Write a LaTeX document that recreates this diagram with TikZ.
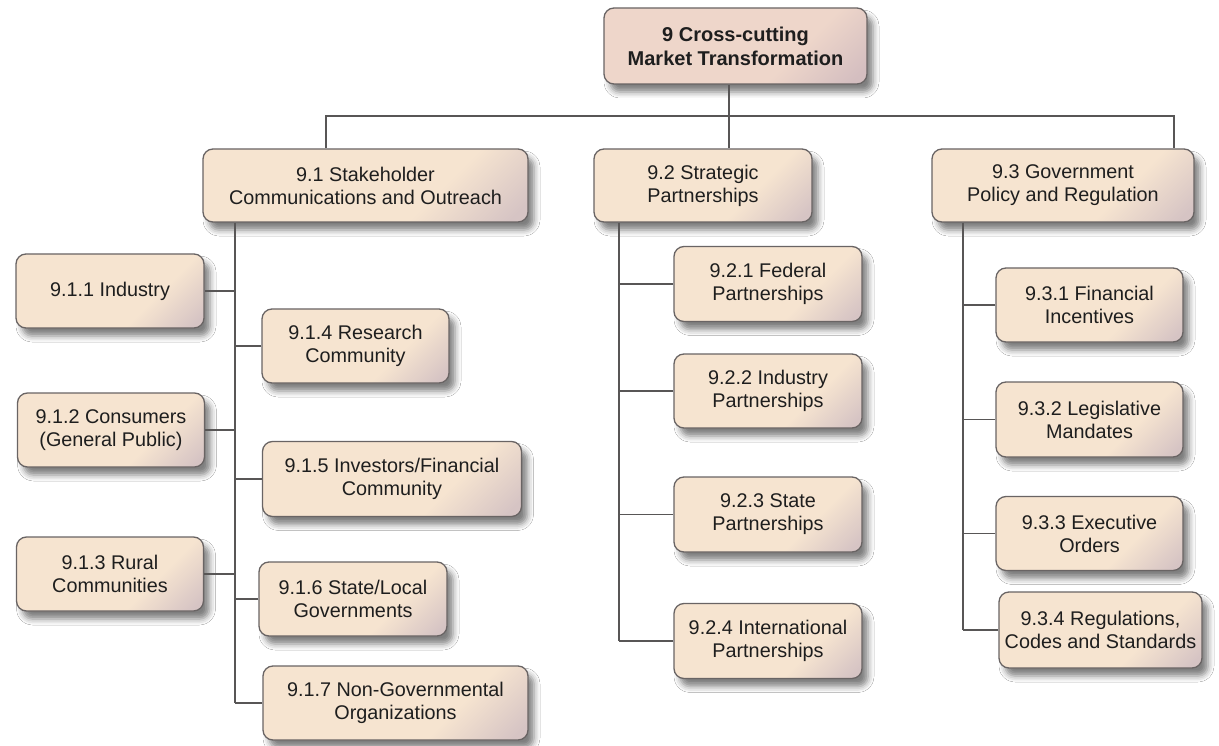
\documentclass[tikz,border=0pt]{standalone}
\usepackage{fontspec}
\setmainfont{Liberation Sans}
\usetikzlibrary{shadows.blur}
\definecolor{bxA}{RGB}{246,228,208}
\definecolor{bxB}{RGB}{214,196,196}
\definecolor{tpA}{RGB}{238,214,202}
\definecolor{tpB}{RGB}{212,190,192}
\definecolor{edgec}{RGB}{105,100,100}
\definecolor{linec}{RGB}{88,86,86}
\definecolor{txt}{RGB}{30,30,30}
\pgfdeclareverticalshading{boxshade}{100bp}{color(0bp)=(bxB); color(18bp)=(bxB); color(36bp)=(bxA); color(100bp)=(bxA)}
\pgfdeclareverticalshading{topshade}{100bp}{color(0bp)=(tpB); color(18bp)=(tpB); color(36bp)=(tpA); color(100bp)=(tpA)}
\begin{document}
\begin{tikzpicture}[x=1pt,y=-1pt,
  box/.style={draw=edgec, line width=1.3pt, rounded corners=10pt, shading=boxshade, shading angle=45,
    align=center, text=txt, font=\fontsize{19.8}{23}\selectfont, inner sep=0pt,
    blur shadow={shadow xshift=6pt, shadow yshift=-8pt, shadow blur radius=6pt, shadow opacity=50}},
  topbox/.style={box, shading=topshade, shading angle=45, font=\bfseries\fontsize{20}{24}\selectfont},
  conn/.style={draw=linec, line width=1.5pt}]
\path[fill=white, use as bounding box] (0,0) rectangle (1219,746);

% level 0
\node[topbox, minimum width=263pt, minimum height=76pt] (top) at (735.5,46) {9 Cross-cutting\\Market Transformation};

% level 1
\node[box, minimum width=325pt, minimum height=73pt] (n91) at (365.5,185.5) {9.1 Stakeholder\\Communications and Outreach};
\node[box, minimum width=218pt, minimum height=73pt] (n92) at (703,185.5) {9.2 Strategic\\Partnerships};
\node[box, minimum width=262pt, minimum height=73pt] (n93) at (1063,185.5) {9.3 Government\\Policy and Regulation};

% 9.1 children
\node[box, minimum width=188pt, minimum height=74pt] (n911) at (110,291) {9.1.1 Industry};
\node[box, minimum width=187pt, minimum height=74pt] (n912) at (111,430) {9.1.2 Consumers\\(General Public)};
\node[box, minimum width=187pt, minimum height=74pt] (n913) at (110,574) {9.1.3 Rural\\Communities};
\node[box, minimum width=187pt, minimum height=74pt] (n914) at (355.5,346) {9.1.4 Research\\Community};
\node[box, minimum width=259pt, minimum height=75pt] (n915) at (392,479) {9.1.5 Investors/Financial\\Community};
\node[box, minimum width=188pt, minimum height=74pt] (n916) at (353,599) {9.1.6 State/Local\\Governments};
\node[box, minimum width=265pt, minimum height=74pt] (n917) at (395.5,703) {9.1.7 Non-Governmental\\Organizations};

% 9.2 children
\node[box, minimum width=188pt, minimum height=75pt] (n921) at (768,284) {9.2.1 Federal\\Partnerships};
\node[box, minimum width=188pt, minimum height=74pt] (n922) at (768,391) {9.2.2 Industry\\Partnerships};
\node[box, minimum width=188pt, minimum height=75pt] (n923) at (768,514.5) {9.2.3 State\\Partnerships};
\node[box, minimum width=188pt, minimum height=75pt] (n924) at (768,641) {9.2.4 International\\Partnerships};

% 9.3 children
\node[box, minimum width=187pt, minimum height=74pt] (n931) at (1089.5,305) {9.3.1 Financial\\Incentives};
\node[box, minimum width=187pt, minimum height=75pt] (n932) at (1089.5,419.5) {9.3.2 Legislative\\Mandates};
\node[box, minimum width=187pt, minimum height=74pt] (n933) at (1089.5,533.5) {9.3.3 Executive\\Orders};
\node[box, minimum width=203pt, minimum height=76pt] (n934) at (1100.5,630) {9.3.4 Regulations,\\Codes and Standards};

% connectors
\coordinate (b1) at (326,116);
\coordinate (b3) at (1174,116);
\coordinate (t1) at (235,0);
\coordinate (t2) at (619,0);
\coordinate (t3) at (963,0);
\draw[conn] (b1 |- n91.north) -- (b1) -- (b3) -- (b3 |- n93.north);
\draw[conn] ([xshift=-6.5pt]top.south) -- ([xshift=-6.5pt]top.south |- n92.north);

\draw[conn] (t1 |- n91.south) -- (t1 |- n917.west);
\foreach \n in {n911,n912,n913} \draw[conn] (\n.east) -- (\n.east -| t1);
\foreach \n in {n914,n915,n916,n917} \draw[conn] (\n.west) -- (\n.west -| t1);

\draw[conn] (t2 |- n92.south) -- (t2 |- n924.west);
\foreach \n in {n921,n922,n923,n924} \draw[conn] (\n.west) -- (\n.west -| t2);

\draw[conn] (t3 |- n93.south) -- (t3 |- n934.west);
\foreach \n in {n931,n932,n933,n934} \draw[conn] (\n.west) -- (\n.west -| t3);
\end{tikzpicture}
\end{document}
